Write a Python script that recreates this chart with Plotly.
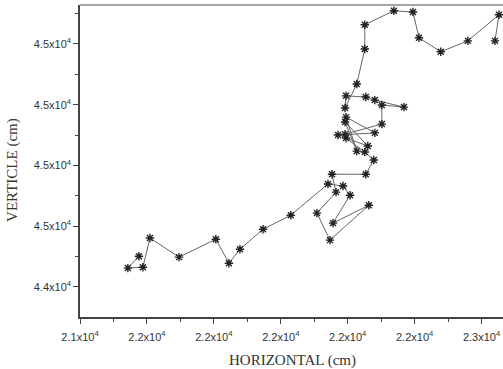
import plotly.graph_objects as go

# Trajectory (cm)
horizontal = [21576, 21543, 21588, 21609, 21696, 21806, 21845, 21878, 21947, 22030,
              22141, 22186, 22207, 22156, 22263, 22147, 22108, 22165, 22153, 22254,
              22278, 22251, 22195, 22260, 22192, 22227, 22195, 22281, 22171, 22192,
              22302, 22302, 22368, 22281, 22254, 22195, 22192, 22227, 22251, 22251,
              22338, 22395, 22413, 22478, 22559, 22652, 22640]
verticle = [44501, 44462, 44465, 44561, 44498, 44557, 44478, 44524, 44590, 44636,
            44739, 44732, 44702, 44610, 44669, 44554, 44643, 44712, 44771, 44771,
            44818, 44844, 44890, 44864, 44943, 44847, 44959, 44907, 44900, 44903,
            44936, 44999, 44992, 45015, 45025, 45029, 44989, 45068, 45183, 45263,
            45309, 45305, 45220, 45174, 45210, 45296, 45210]

x_tickvals = [21400, 21600, 21800, 22000, 22200, 22400, 22600]
x_ticktext = ["2.1x10<sup>4</sup>", "2.2x10<sup>4</sup>", "2.2x10<sup>4</sup>", "2.2x10<sup>4</sup>",
              "2.2x10<sup>4</sup>", "2.2x10<sup>4</sup>", "2.3x10<sup>4</sup>"]
x_minor = [21500, 21700, 21900, 22100, 22300, 22500]
y_tickvals = [44400, 44600, 44800, 45000, 45200]
y_ticktext = ["4.4x10<sup>4</sup>", "4.5x10<sup>4</sup>", "4.5x10<sup>4</sup>",
              "4.5x10<sup>4</sup>", "4.5x10<sup>4</sup>"]
y_minor = [44300, 44500, 44700, 44900, 45100, 45300]
x_title = "HORIZONTAL (cm)"
y_title = "VERTICLE (cm)"

fig = go.Figure()
fig.add_trace(go.Scatter(
    x=horizontal, y=verticle, mode="lines+markers",
    line=dict(color="#666666", width=1),
    marker=dict(symbol="asterisk-open", size=7, color="#222222",
                line=dict(color="#333333", width=1.4)),
    showlegend=False,
))

axis_common = dict(
    showgrid=False, zeroline=False, showline=True, linecolor="#444444", linewidth=1.5,
    ticks="outside", ticklen=5, tickwidth=1.2, tickcolor="#444444",
    tickfont=dict(family="Liberation Sans, Arial", size=11, color="#333333"),
    tickmode="array", automargin=False,
)
fig.update_xaxes(
    **axis_common, range=[21400, 22664], tickvals=x_tickvals, ticktext=x_ticktext,
    ticklabelstandoff=4,
    minor=dict(tickmode="array", tickvals=x_minor, ticklen=3, tickcolor="#444444", ticks="outside"),
)
fig.update_yaxes(
    **axis_common, range=[44301, 45328], tickvals=y_tickvals, ticktext=y_ticktext,
    minor=dict(tickmode="array", tickvals=y_minor, ticklen=3, tickcolor="#444444", ticks="outside"),
)
title_font = dict(family="Liberation Serif, Times New Roman", size=15, color="#333333")
fig.add_annotation(text=x_title, xref="paper", yref="paper", x=0.502, y=-0.138,
                   showarrow=False, font=title_font, xanchor="center", yanchor="middle")
fig.add_annotation(text=y_title, xref="paper", yref="paper", x=-0.161, y=0.471,
                   showarrow=False, font=title_font, textangle=-90,
                   xanchor="center", yanchor="middle")
fig.add_shape(type="line", xref="paper", yref="paper", x0=0, x1=1, y0=1, y1=1,
              line=dict(color="#888888", width=1.5))
fig.update_layout(
    width=503, height=369,
    margin=dict(l=80, r=0, t=5, b=52),
    paper_bgcolor="white", plot_bgcolor="white",
)
fig.write_html("out.html", config={"displayModeBar": False},
               post_script="document.body.style.margin='0px';document.body.style.overflow='hidden';")
